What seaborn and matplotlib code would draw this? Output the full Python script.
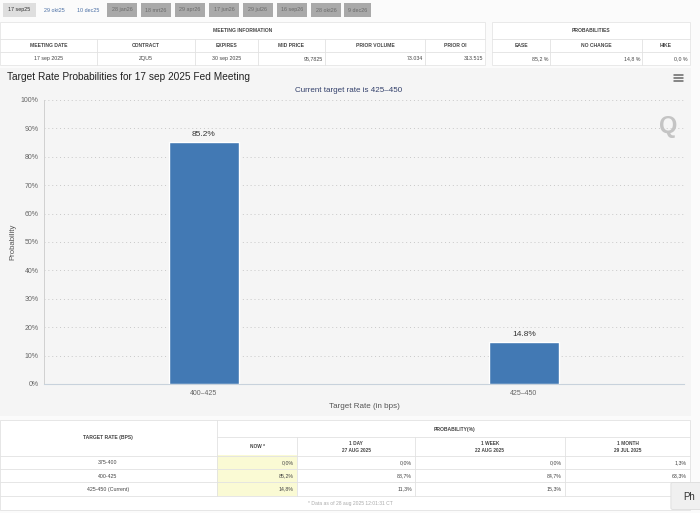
import matplotlib
matplotlib.use("Agg")
import matplotlib.pyplot as plt
from matplotlib.patches import Rectangle, FancyBboxPatch
from matplotlib.lines import Line2D
import seaborn as sns
import pandas as pd

# -----------------------------
# Data
# -----------------------------
target_rates = ['400–425', '425–450']
probabilities = [85.2, 14.8]
current_rate = '425–450'

meeting_tabs = ['17 sep25', '29 okt25', '10 dec25', '28 jan26', '18 mrt26', '29 apr26',
                '17 jun26', '29 jul26', '16 sep26', '28 okt26', '9 dec26']

info_headers = ['MEETING DATE', 'CONTRACT', 'EXPIRES', 'MID PRICE', 'PRIOR VOLUME', 'PRIOR OI']
info_values = ['17 sep 2025', 'ZQU5', '30 sep 2025', '95,7825', '73.034', '313.515']
prob_headers = ['EASE', 'NO CHANGE', 'HIKE']
prob_values = ['85,2 %', '14,8 %', '0,0 %']

table_rates = ['375-400', '400-425', '425-450 (Current)']
table_cols = ['NOW *', '1 DAY\n27 AUG 2025', '1 WEEK\n22 AUG 2025', '1 MONTH\n29 JUL 2025']
now_probs = ['0,0%', '85,2%', '14,8%']
day_probs = ['0,0%', '88,7%', '11,3%']
week_probs = ['0,0%', '84,7%', '15,3%']
month_probs = ['1,3%', '63,3%', '35,4%']
footnote = '* Data as of 28 aug 2025 12:01:31 CT'

df = pd.DataFrame({'rate': target_rates, 'prob': probabilities})

# -----------------------------
# Figure
# -----------------------------
sns.set_style("white")
plt.rcParams['font.family'] = ['Liberation Sans', 'DejaVu Sans']

W, H = 700, 513
fig = plt.figure(figsize=(7, 5.13), dpi=100, facecolor='#fbfbfb')


def px(x, y):
    return x / W, 1 - y / H


def rect(x0, y0, x1, y1, fc, ec='none', lw=0.6, z=0):
    fig.patches.append(Rectangle(px(x0, y1), (x1 - x0) / W, (y1 - y0) / H,
                                 transform=fig.transFigure, facecolor=fc,
                                 edgecolor=ec, lw=lw, zorder=z))


def hline(x0, x1, y, c='#e2e2e2', lw=0.6):
    fig.add_artist(Line2D([x0 / W, x1 / W], [1 - y / H] * 2, color=c, lw=lw))


def vline(x, y0, y1, c='#e2e2e2', lw=0.6):
    fig.add_artist(Line2D([x / W] * 2, [1 - y0 / H, 1 - y1 / H], color=c, lw=lw))


def txt(x, y, s, size=3.6, ha='center', color='#444444', weight='normal', **kw):
    fig.text(*px(x, y), s, fontsize=size, ha=ha, va='center', color=color,
             fontweight=weight, **kw)


# top tabs
tab_x = [(3, 36), (38, 70), (72, 105), (107, 137), (141, 171), (175, 205),
         (209, 239), (243, 273), (277, 307), (311, 341), (344, 371)]
for i, (lab, (a, b)) in enumerate(zip(meeting_tabs, tab_x)):
    if i == 0:
        rect(a, 3, b, 17, '#dedede')
        txt((a + b) / 2, 10, lab, size=3.9, color='#333333')
    elif i < 3:
        txt((a + b) / 2, 10, lab, size=3.9, color='#4a6fa5')
    else:
        rect(a, 3, b, 17, '#a9a9a9')
        txt((a + b) / 2, 10, lab, size=3.9, color='#6a6a6a')

# meeting information table
rect(0, 22, 485, 65, '#ffffff', ec='#e6e6e6')
txt(243, 31, 'MEETING INFORMATION', weight='bold')
hline(0, 485, 39)
hline(0, 485, 52)
info_cols = [(0, 97), (97, 195), (195, 258), (258, 325), (325, 425), (425, 485)]
for j, (a, b) in enumerate(info_cols):
    if j > 0:
        vline(a, 39, 65)
    txt((a + b) / 2, 45.5, info_headers[j], weight='bold')
    if j < 3:
        txt((a + b) / 2, 58.5, info_values[j], size=3.8)
    else:
        txt(b - 2, 58.5, info_values[j], size=3.8, ha='right')

rect(492, 22, 690, 65, '#ffffff', ec='#e6e6e6')
txt(591, 31, 'PROBABILITIES', weight='bold')
hline(492, 690, 39)
hline(492, 690, 52)
prob_cols = [(492, 550), (550, 642), (642, 690)]
for j, (a, b) in enumerate(prob_cols):
    if j > 0:
        vline(a, 39, 65)
    txt((a + b) / 2, 45.5, prob_headers[j], weight='bold')
    txt(b - 2, 58.5, prob_values[j], size=3.8, ha='right')

# chart panel (behind the axes)
rect(0, 68, 691, 416, '#f5f5f5', z=-1)

ax = fig.add_axes([44 / W, 1 - 384 / H, 640 / W, 284 / H])
ax.set_facecolor('#f5f5f5')
sns.barplot(data=df, x='rate', y='prob', color='#4279b4', width=0.22,
            saturation=1, ax=ax, zorder=3)
ax.set_xlim(-0.5, 1.5)
ax.set_ylim(0, 100)
ax.set_yticks(range(0, 101, 10))
ax.set_yticklabels([f'{v}%' for v in range(0, 101, 10)])
ax.grid(axis='y', linestyle=(0, (1, 3)), color='#c8c8c8', lw=0.7)
ax.tick_params(axis='both', length=0, labelsize=5, colors='#666666', pad=4)
for s in ['top', 'right']:
    ax.spines[s].set_visible(False)
ax.spines['left'].set_color('#d0d0d0')
ax.spines['left'].set_linewidth(0.7)
ax.spines['bottom'].set_color('#c8d2dc')
ax.spines['bottom'].set_linewidth(0.8)
ax.set_xlabel('Target Rate (in bps)', fontsize=5.8, color='#555555', labelpad=5)
ax.set_ylabel('Probability', fontsize=5.6, color='#555555', labelpad=3)
ax.bar_label(ax.containers[0], fmt='%.1f%%', fontsize=6, color='#333333', padding=3)

fig.text(*px(7, 77), 'Target Rate Probabilities for 17 sep 2025 Fed Meeting',
         fontsize=7.3, color='#222222', va='center')
fig.text(*px(349, 91), f'Current target rate is {current_rate}',
         fontsize=5.8, color='#33406b', va='center', ha='center')
for yy in (75, 78, 81):
    hline(674, 683, yy, c='#666666', lw=1.1)
fig.text(*px(668, 126), 'Q', fontsize=17, color='#c4c4c4', fontweight='bold',
         ha='center', va='center')

# probability table
rect(0, 420, 690, 510, '#ffffff', ec='#e2e2e2')
rect(217, 455, 297, 496, '#fafad4')
txt(108, 438, 'TARGET RATE (BPS)', weight='bold')
txt(455, 430, 'PROBABILITY(%)', weight='bold')
vline(217, 420, 496)
hline(217, 690, 437)
hline(0, 690, 456)
hline(0, 690, 469)
hline(0, 690, 482)
hline(0, 690, 496)
col_x = [(217, 297), (297, 415), (415, 565), (565, 690)]
for j, (a, b) in enumerate(col_x):
    if j > 0:
        vline(a, 437, 496)
    txt((a + b) / 2, 447, table_cols[j], weight='bold', size=3.4, linespacing=1.3)
row_y = [463, 476, 489]
for i, y in enumerate(row_y):
    txt(108, y, table_rates[i], size=3.8)
    for (a, b), vals in zip(col_x, [now_probs, day_probs, week_probs, month_probs]):
        txt(b - 3, y, vals[i], size=3.8, ha='right')
txt(350, 503, footnote, size=3.6, color='#aaaaaa')

fig.patches.append(FancyBboxPatch(px(673, 508), 30 / W, 24 / H,
                                  boxstyle='round,pad=0.003', transform=fig.transFigure,
                                  facecolor='#f0f0f0', edgecolor='#dddddd', lw=0.6, zorder=5))
fig.text(*px(683, 497.5), 'Ph', fontsize=7, color='#333333', va='center', zorder=6)

plt.savefig('out.png', dpi=100, facecolor=fig.get_facecolor())
